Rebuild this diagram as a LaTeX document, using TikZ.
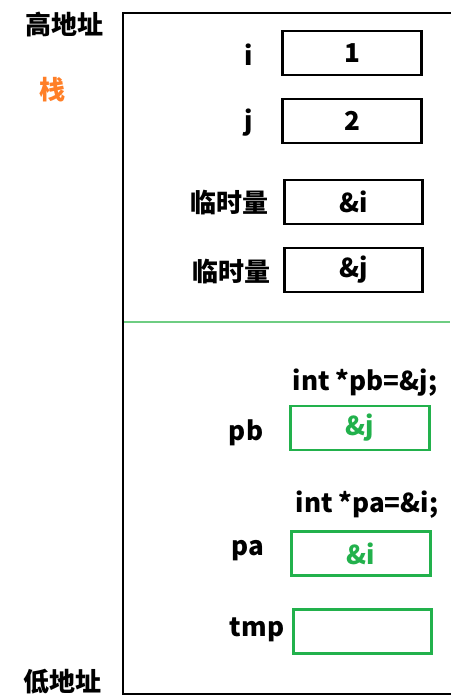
\documentclass[tikz,border=0pt]{standalone}
\usepackage{fontspec}
\setmainfont{Noto Sans CJK SC}
\definecolor{paintgreen}{RGB}{34, 177, 76}
\definecolor{paintorange}{RGB}{255, 127, 39}
\definecolor{linegreen}{RGB}{110, 205, 130}
\usetikzlibrary{positioning}

\newcommand{\bigbf}{\fontsize{19.5}{20}\selectfont\bfseries}

\tikzset{
  cell/.style={draw, line width=2.2pt, minimum width=104pt, minimum height=33pt, inner sep=0pt, font=\bigbf},
  ptrcell/.style={cell, draw=paintgreen, text=paintgreen},
  lbl/.style={font=\bigbf, inner sep=0pt}
}

\begin{document}
\begin{tikzpicture}[x=0.75pt, y=-0.75pt]
  \useasboundingbox (0,0) rectangle (450,696);

  % Stack frame
  \draw[line width=2.2pt] (470,13) -- (123,13) -- (123,694) -- (470,694);
  \draw[linegreen, line width=1.1pt] (124,322) -- (450,322);

  % Address side
  \node[lbl] (high) at (65,25) {高地址};
  \node[lbl, text=paintorange] (stack) at (52,90) {栈};
  \node[lbl] (low) at (62,682) {低地址};

  % Caller locals
  \node[cell] (ci) at (352,53) {1};
  \node[lbl] (li) at (249,55) {i};
  \node[cell] (cj) at (352,121) {2};
  \node[lbl] (lj) at (249,123) {j};

  % Temporaries
  \node[cell] (ta) at (353.5,202) {\&i};
  \node[lbl] (lta) at (229,203) {临时量};
  \node[cell] (tb) at (353.5,270) {\&j};
  \node[lbl] (ltb) at (231,272) {临时量};

  % Callee locals
  \node[lbl] (cpb) at (365,383) {int *pb=\&j;};
  \node[ptrcell] (pb) at (360,428) {\&j};
  \node[lbl] (lpb) at (246,433) {pb};
  \node[lbl] (cpa) at (367,505) {int *pa=\&i;};
  \node[ptrcell] (pa) at (361,553.5) {\&i};
  \node[lbl] (lpa) at (248,551) {pa};
  \node[ptrcell] (tmp) at (362.5,631.5) {};
  \node[lbl] (ltmp) at (257,630) {tmp};
\end{tikzpicture}
\end{document}
